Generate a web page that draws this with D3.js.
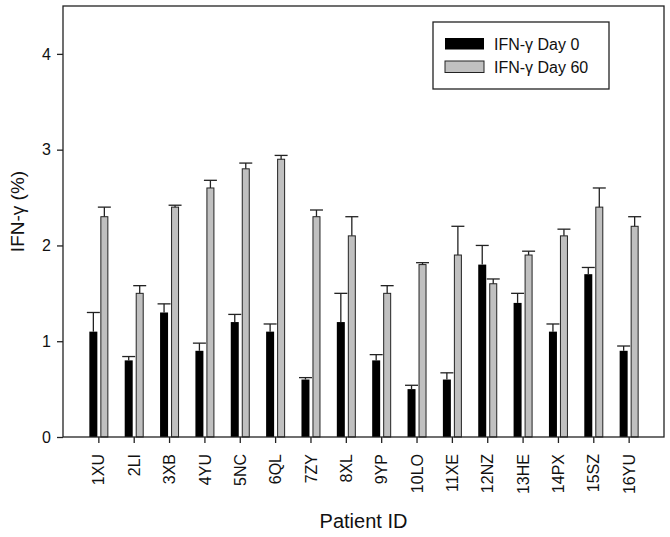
<!DOCTYPE html>
<html>
<head>
<meta charset="utf-8">
<script src="https://cdn.jsdelivr.net/npm/d3@7"></script>
<style>
  body { margin: 0; background: #fff; }
  svg { display: block; font-family: "Liberation Sans", Arial, sans-serif; }
</style>
</head>
<body>
<svg id="chart" width="670" height="537"></svg>
<script>
// Patients and IFN-gamma values (%)
const patients = ["1XU", "2LI", "3XB", "4YU", "5NC", "6QL", "7ZY", "8XL",
                  "9YP", "10LO", "11XE", "12NZ", "13HE", "14PX", "15SZ", "16YU"];
const day0     = [1.1, 0.8, 1.3, 0.9, 1.2, 1.1, 0.6, 1.2, 0.8, 0.5, 0.6, 1.8, 1.4, 1.1, 1.7, 0.9];
const day0Err  = [0.2, 0.04, 0.09, 0.08, 0.08, 0.08, 0.02, 0.3, 0.06, 0.04, 0.07, 0.2, 0.1, 0.08, 0.07, 0.05];
const day60    = [2.3, 1.5, 2.4, 2.6, 2.8, 2.9, 2.3, 2.1, 1.5, 1.8, 1.9, 1.6, 1.9, 2.1, 2.4, 2.2];
const day60Err = [0.1, 0.08, 0.02, 0.08, 0.06, 0.04, 0.07, 0.2, 0.08, 0.02, 0.3, 0.05, 0.04, 0.07, 0.2, 0.1];
const yTicks   = [0, 1, 2, 3, 4];

const series = [
    {name: "IFN-\u03b3 Day 0",  values: day0,  errors: day0Err,  fill: "#000000", offset: -9,   width: 8},
    {name: "IFN-\u03b3 Day 60", values: day60, errors: day60Err, fill: "#c0c0c0", offset: 2.5, width: 7}
];

const svg = d3.select("#chart");
const margin = {left: 63, top: 6, right: 6, bottom: 100};
const W = 670, H = 537;
const font = "Liberation Sans, Arial, sans-serif";

// x positions: patients sit at 1..16 on a 0..17 scale
const x = d3.scaleLinear()
    .domain([0, patients.length + 1])
    .range([margin.left, W - margin.right]);
const y = d3.scaleLinear()
    .domain([0, 4.5])
    .range([H - margin.bottom, margin.top]);

const ink = "#222";

// Bars
series.forEach(s => {
    svg.append("g")
        .selectAll("rect")
        .data(s.values)
        .join("rect")
        .attr("x", (d, i) => x(i + 1) + s.offset)
        .attr("width", s.width)
        .attr("y", d => y(d))
        .attr("height", d => y(0) - y(d))
        .attr("fill", s.fill)
        .attr("stroke", s.fill === "#000000" ? "none" : ink)
        .attr("stroke-width", 1);

    // upper error bars
    const eg = svg.append("g")
        .attr("stroke", ink)
        .attr("stroke-width", 1.3);
    s.values.forEach((v, i) => {
        const cx = x(i + 1) + s.offset + s.width / 2;
        const top = y(v + s.errors[i]);
        eg.append("line")
            .attr("x1", cx).attr("x2", cx)
            .attr("y1", y(v)).attr("y2", top);
        eg.append("line")
            .attr("x1", cx - 6.5).attr("x2", cx + 6.5)
            .attr("y1", top).attr("y2", top);
    });
});

// Frame
svg.append("rect")
    .attr("x", x.range()[0])
    .attr("y", y.range()[1])
    .attr("width", x.range()[1] - x.range()[0])
    .attr("height", y.range()[0] - y.range()[1])
    .attr("fill", "none")
    .attr("stroke", ink)
    .attr("stroke-width", 1.3);

// Y axis
const yAxis = svg.append("g")
    .attr("transform", `translate(${margin.left},0)`)
    .call(d3.axisLeft(y).tickValues(yTicks).tickSize(6).tickPadding(6).tickFormat(d3.format("d")));
yAxis.select(".domain").remove();
yAxis.selectAll("line").attr("stroke", ink).attr("stroke-width", 1.3);
yAxis.selectAll("text").attr("font-size", 16).attr("fill", "#111")
    .style("font-family", font);

// X axis
const xAxis = svg.append("g")
    .attr("transform", `translate(0,${y(0)})`)
    .call(d3.axisBottom(x)
        .tickValues(d3.range(1, patients.length + 1))
        .tickSize(6)
        .tickFormat(d => patients[d - 1]));
xAxis.select(".domain").remove();
xAxis.selectAll("line").attr("stroke", ink).attr("stroke-width", 1.3);
xAxis.selectAll("text")
    .attr("font-size", 16)
    .attr("fill", "#111")
    .style("font-family", font)
    .attr("text-anchor", "end")
    .attr("transform", "rotate(-90)")
    .attr("x", -17)
    .attr("y", 0)
    .attr("dy", "0.35em");

// Axis titles
svg.append("text")
    .attr("transform", `translate(24,${(y.range()[0] + y.range()[1]) / 2 - 10}) rotate(-90)`)
    .attr("text-anchor", "middle")
    .attr("font-size", 19)
    .attr("fill", "#111")
    .text("IFN-\u03b3 (%)");

svg.append("text")
    .attr("x", (x.range()[0] + x.range()[1]) / 2)
    .attr("y", 528)
    .attr("text-anchor", "middle")
    .attr("font-size", 20)
    .attr("fill", "#111")
    .text("Patient ID");

// Legend
const legend = svg.append("g").attr("transform", "translate(433,22)");
legend.append("rect")
    .attr("width", 176).attr("height", 67)
    .attr("fill", "#fff").attr("stroke", ink).attr("stroke-width", 1.3);
series.forEach((s, i) => {
    const row = legend.append("g").attr("transform", `translate(12,${16 + i * 23})`);
    row.append("rect")
        .attr("width", 39).attr("height", 11.5)
        .attr("fill", s.fill)
        .attr("stroke", s.fill === "#000000" ? "none" : ink)
        .attr("stroke-width", 1);
    row.append("text")
        .attr("x", 49).attr("y", 11.5)
        .attr("font-size", 16)
        .attr("fill", "#111")
        .text(s.name);
});
</script>
</body>
</html>
